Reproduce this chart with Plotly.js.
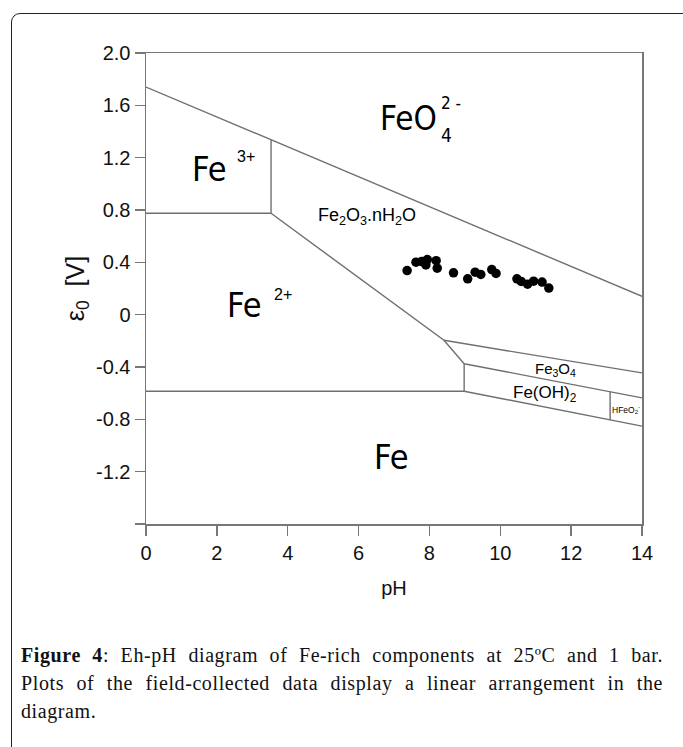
<!DOCTYPE html>
<html>
<head>
<meta charset="utf-8">
<script src="https://cdn.plot.ly/plotly-3.0.1.min.js"></script>
<style>
  html, body { margin:0; padding:0; background:#fff; }
  #wrap { position:relative; width:683px; height:747px; overflow:hidden; }
  #chart { position:absolute; left:0; top:0; width:683px; height:747px; }
  #frame { position:absolute; left:11px; top:13px; width:700px; height:760px;
           border:1.5px solid #222; border-radius:9px; pointer-events:none; }
  .cap { position:absolute; left:21px; width:642px; font-family:"Liberation Serif", serif;
         font-size:20px; line-height:28px; color:#111; white-space:nowrap; letter-spacing:0.6px; }
  .just { text-align:justify; text-align-last:justify; }
</style>
</head>
<body>
<div id="wrap">
  <div id="chart"></div>
  <div id="frame"></div>
  <div class="cap just" style="top:641px;"><b>Figure 4</b>: Eh-pH diagram of Fe-rich components at 25ºC and 1 bar.</div>
  <div class="cap just" style="top:669px;">Plots of the field-collected data display a linear arrangement in the</div>
  <div class="cap" style="top:697px;">diagram.</div>
</div>
<script>
// ---- axis ticks ----
const xTicks = [0, 2, 4, 6, 8, 10, 12, 14];
const yTicks = [-1.6, -1.2, -0.8, -0.4, 0, 0.4, 0.8, 1.2, 1.6, 2.0];
const yTickText = ['', '-1.2', '-0.8', '-0.4', '0', '0.4', '0.8', '1.2', '1.6', '2.0'];

// ---- field-collected samples (pH, Eh in V) ----
const samplePH = [7.37, 7.62, 7.78, 7.90, 7.94, 8.19, 8.22, 8.68, 9.08, 9.29, 9.45, 9.76, 9.88, 10.47, 10.59, 10.77, 10.94, 11.18, 11.37];
const sampleE  = [0.337, 0.401, 0.406, 0.380, 0.421, 0.413, 0.355, 0.320, 0.274, 0.325, 0.307, 0.345, 0.315, 0.274, 0.254, 0.233, 0.256, 0.249, 0.203];

// ---- stability-field boundaries ----
const upperPH = [0, 14];            const upperE = [1.74, 0.14];
const fe3fe2PH = [0, 3.53];         const fe3fe2E = [0.775, 0.775];
const fe3vPH = [3.53, 3.53];        const fe3vE = [0.775, 1.336];
const oxFe2PH = [3.53, 8.41, 8.98]; const oxFe2E = [0.775, -0.196, -0.375];
const fe2FePH = [0, 8.98];          const fe2FeE = [-0.585, -0.585];
const ohvPH = [8.98, 8.98];         const ohvE = [-0.375, -0.585];
const magTopPH = [8.41, 14];        const magTopE = [-0.196, -0.445];
const magOhPH = [8.98, 14];         const magOhE = [-0.375, -0.636];
const ohFePH = [8.98, 14];          const ohFeE = [-0.585, -0.852];
const hfevPH = [13.10, 13.10];      const hfevE = [-0.592, -0.806];

const boundaries = [
  [upperPH, upperE], [fe3fe2PH, fe3fe2E], [fe3vPH, fe3vE], [oxFe2PH, oxFe2E],
  [fe2FePH, fe2FeE], [ohvPH, ohvE], [magTopPH, magTopE], [magOhPH, magOhE],
  [ohFePH, ohFeE], [hfevPH, hfevE]
];

const lineColor = '#6f6f6f';
const traces = boundaries.map(b => ({
  x: b[0], y: b[1], type: 'scatter', mode: 'lines',
  line: {color: lineColor, width: 1.4}, hoverinfo: 'skip'
}));
traces.push({
  x: samplePH, y: sampleE, type: 'scatter', mode: 'markers',
  marker: {color: '#000', size: 9.5}, hoverinfo: 'x+y'
});

const big = 'DejaVu Sans Condensed, Liberation Sans, Arial, sans-serif';
const sans = 'Liberation Sans, Arial, sans-serif';
function lab(x, y, text, size, xanchor, family) {
  return {x: x, y: y, xref: 'x', yref: 'y', text: text, showarrow: false,
          xanchor: xanchor || 'center', yanchor: 'middle',
          font: {family: family || big, size: size, color: '#000'}};
}
const annotations = [
  lab(8.26, 1.50, 'FeO', 33, 'right'),
  lab(8.28, 1.37, '4', 19, 'left'),
  lab(8.28, 1.62, '2 -', 17, 'left'),
  lab(1.78, 1.115, 'Fe', 34),
  lab(2.50, 1.21, '3+', 16, 'left', sans),
  lab(2.77, 0.072, 'Fe', 34),
  lab(3.56, 0.153, '2+', 16, 'left', sans),
  lab(6.25, 0.75, 'Fe<sub>2</sub>O<sub>3</sub>.nH<sub>2</sub>O', 18, 'center', sans),
  lab(11.57, -0.42, 'Fe<sub>3</sub>O<sub>4</sub>', 15, 'center', sans),
  lab(11.26, -0.61, 'Fe(OH)<sub>2</sub>', 17, 'center', sans),
  lab(13.55, -0.725, 'HFeO<sub>2</sub><sup>-</sup>', 8.5, 'center', sans),
  lab(6.92, -1.086, 'Fe', 34)
];

const axisCommon = {
  showline: true, linecolor: '#777', linewidth: 1.5, mirror: true,
  ticks: 'outside', ticklen: 10, tickwidth: 1.5, tickcolor: '#777',
  showgrid: false, zeroline: false, fixedrange: true,
  tickfont: {family: sans, size: 20, color: '#111'}
};

const layout = {
  width: 683, height: 747,
  margin: {l: 146, r: 41, t: 53, b: 223},
  paper_bgcolor: 'rgba(0,0,0,0)', plot_bgcolor: '#fff',
  showlegend: false,
  xaxis: Object.assign({}, axisCommon, {
    range: [0, 14], tickmode: 'array', tickvals: xTicks,
    title: {text: 'pH', font: {family: sans, size: 20, color: '#111'}, standoff: 18}
  }),
  yaxis: Object.assign({}, axisCommon, {
    range: [-1.6, 2.0], tickmode: 'array', tickvals: yTicks, ticktext: yTickText,
    title: {text: 'ε<sub>0</sub>  [V]', font: {family: sans, size: 25, color: '#111'}, standoff: 4}
  }),
  annotations: annotations
};

Plotly.newPlot('chart', traces, layout, {displayModeBar: false, staticPlot: true});
</script>
</body>
</html>
